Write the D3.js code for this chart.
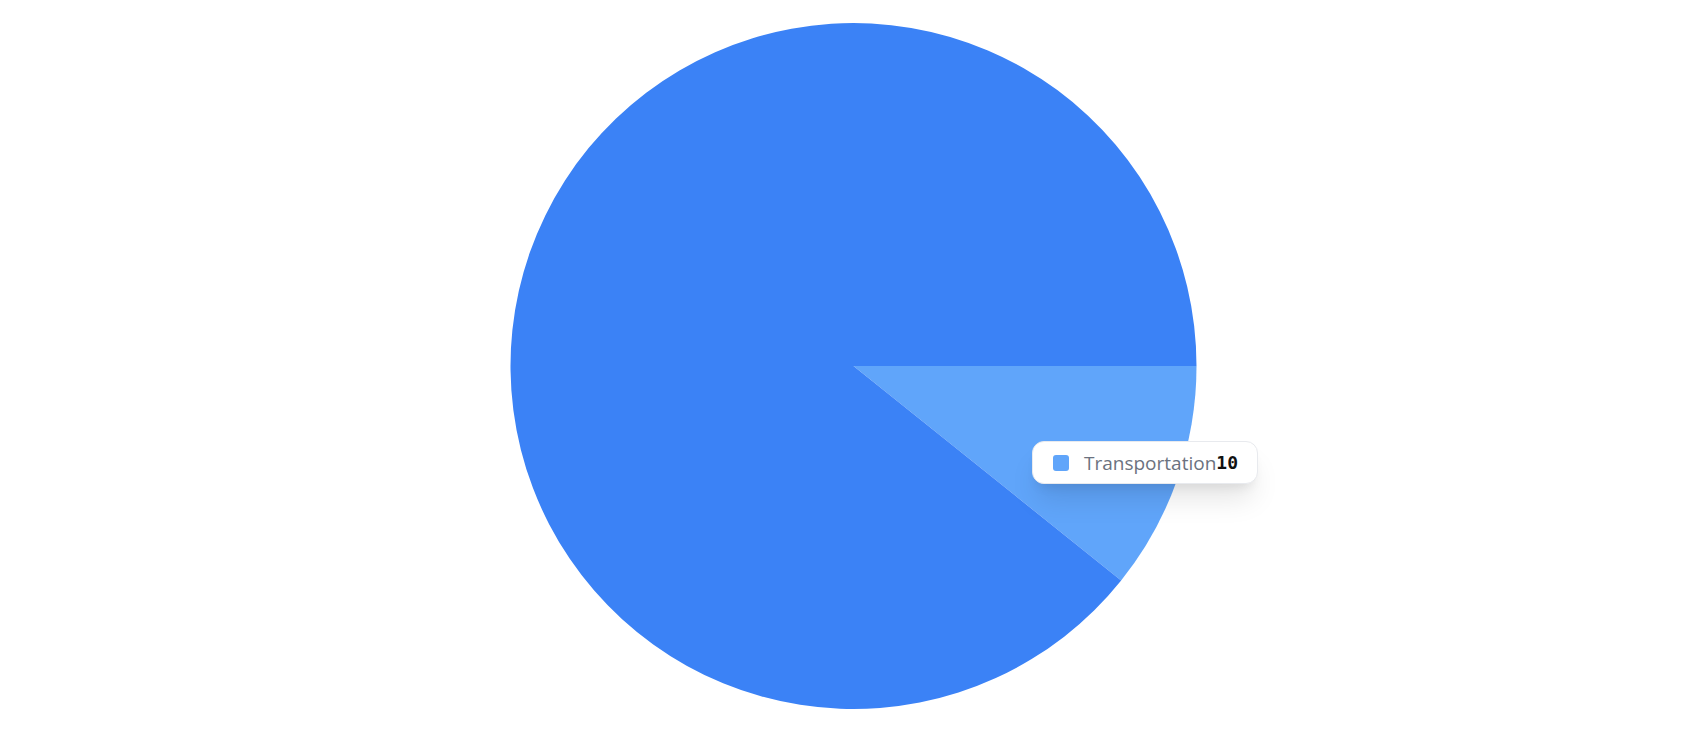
<!DOCTYPE html>
<html>
<head>
<meta charset="utf-8">
<script src="https://cdn.jsdelivr.net/npm/d3@7"></script>
<style>
  html, body { margin: 0; padding: 0; background: #fff; }
  body { width: 1690px; height: 751px; position: relative; overflow: hidden; }
  svg { position: absolute; left: 0; top: 0; }
  .tip {
    position: absolute;
    box-sizing: border-box;
    background: #fff;
    border: 1px solid #e8eaee;
    border-radius: 12px;
    box-shadow: 0 20px 28px -5px rgba(0,0,0,0.1), 0 8px 12px -6px rgba(0,0,0,0.1);
    display: flex; align-items: center;
    font-family: "Open Sans", "Noto Sans", sans-serif;
  }
  .tip .sw { width: 16px; height: 16px; border-radius: 3px; margin-left: 20px; margin-right: 15px; }
  .tip .nm { color: #6b7280; font-size: 19px; }
  .tip .vl { color: #111; font-family: "DejaVu Sans Mono", monospace; font-size: 18px; font-weight: 600; }
</style>
</head>
<body>
<script>
const categories = ["Transportation", "Other"];
const values = [10, 83];
const colors = ["#60a5fa", "#3b82f6"];
const activeIndex = 0;

const W = 1690, H = 751;
const cx = 853.5, cy = 366, radius = 343;

const svg = d3.select("body").append("svg").attr("width", W).attr("height", H);
const data = categories.map((c, i) => ({ name: c, value: values[i], color: colors[i] }));

const pie = d3.pie().value(d => d.value).sort(null)
  .startAngle(Math.PI / 2).endAngle(Math.PI / 2 + 2 * Math.PI);
const arc = d3.arc().innerRadius(0).outerRadius(radius);

svg.append("g").attr("transform", `translate(${cx},${cy})`)
  .selectAll("path").data(pie(data)).join("path")
  .attr("d", arc)
  .attr("fill", d => d.data.color);

const a = data[activeIndex];
const tip = d3.select("body").append("div").attr("class", "tip")
  .style("left", "1032px").style("top", "441px")
  .style("width", "226px").style("height", "43px");
tip.append("div").attr("class", "sw").style("background", a.color);
tip.append("span").attr("class", "nm").text(a.name);
tip.append("span").attr("class", "vl").text(a.value);
</script>
</body>
</html>
